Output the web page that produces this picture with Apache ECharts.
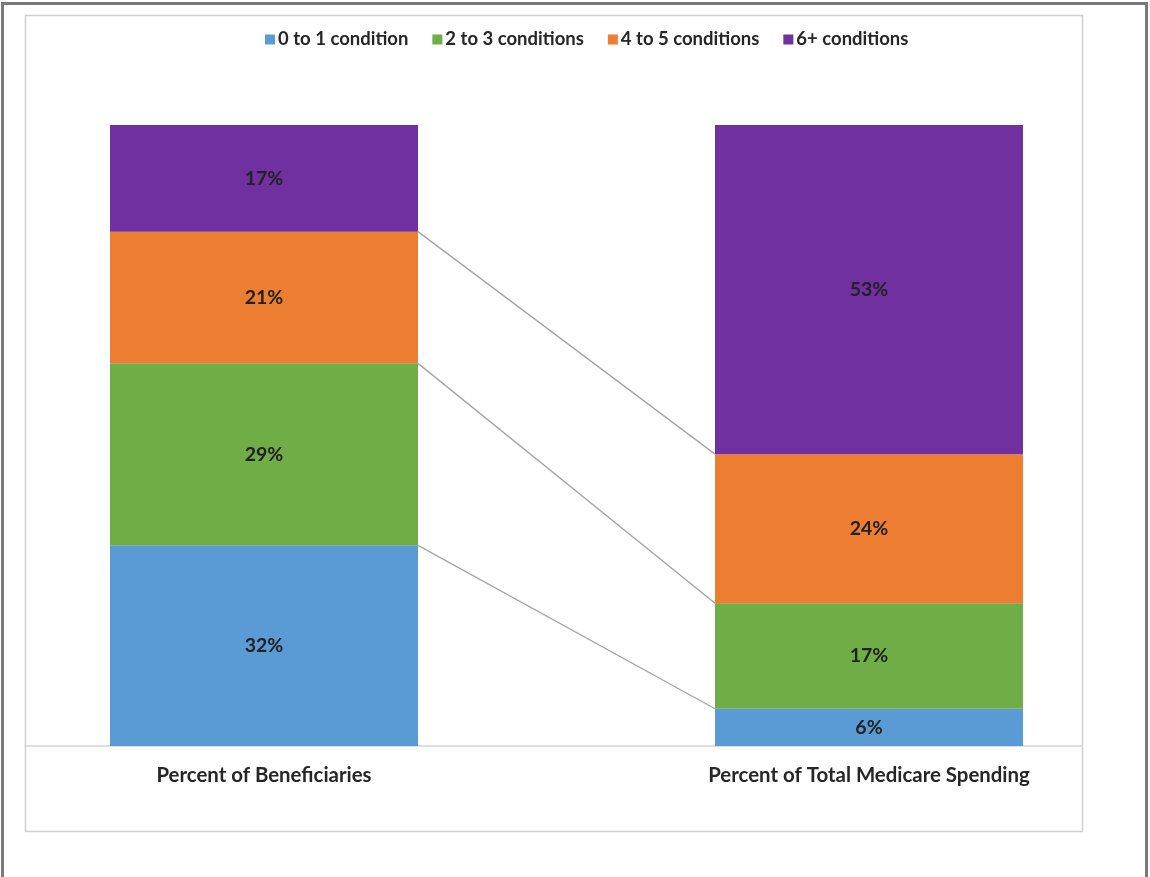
<!DOCTYPE html>
<html>
<head>
<meta charset="utf-8">
<title>Medicare beneficiaries and spending by number of chronic conditions</title>
<script src="https://cdn.jsdelivr.net/npm/echarts@6/dist/echarts.min.js"></script>
<style>
  html, body { margin: 0; padding: 0; background: #ffffff; }
  #chart { width: 1150px; height: 877px; }
</style>
</head>
<body>
<div id="chart"></div>
<script>
// Categories along the x axis
const categories = ['Percent of Beneficiaries', 'Percent of Total Medicare Spending'];

// Groups by number of chronic conditions
const groupNames = ['0 to 1 condition', '2 to 3 conditions', '4 to 5 conditions', '6+ conditions'];

// Shares (%) per category, one array per group
const zeroToOne   = [32, 6];
const twoToThree  = [29, 17];
const fourToFive  = [21, 24];
const sixPlus     = [17, 53];

const groupColors = ['#5B9BD5', '#70AD47', '#ED7D31', '#7030A0'];

const raw = [zeroToOne, twoToThree, fourToFive, sixPlus];

// 100% stacked: each column is scaled by its own total
const colTotals = categories.map((_, c) => raw.reduce((s, arr) => s + arr[c], 0));
const normalized = raw.map(arr => arr.map((v, c) => v / colTotals[c] * 100));

// Series lines join the boundaries between segments of the two columns
const seriesLines = [];
for (let g = 0; g < raw.length - 1; g++) {
  let left = 0, right = 0;
  for (let k = 0; k <= g; k++) { left += normalized[k][0]; right += normalized[k][1]; }
  seriesLines.push([0, left, 1, right]);
}

const BAR_RATIO = 308 / 605;
const FONT = 'Lato, "Open Sans", sans-serif';

const chart = echarts.init(document.getElementById('chart'), null, { renderer: 'canvas' });

const barSeries = groupNames.map((name, g) => ({
  name: name,
  type: 'bar',
  stack: 'share',
  xAxisIndex: 0,
  yAxisIndex: 0,
  barWidth: (BAR_RATIO * 100).toFixed(2) + '%',
  clip: false,
  itemStyle: { color: groupColors[g] },
  label: {
    show: true,
    position: 'inside',
    color: '#222222',
    fontFamily: FONT,
    fontWeight: 'bold',
    fontSize: 19.5,
    formatter: p => raw[g][p.dataIndex] + '%'
  },
  emphasis: { disabled: true },
  data: normalized[g]
}));

const option = {
  animation: false,
  backgroundColor: '#ffffff',
  legend: {
    top: 25,
    left: 260,
    itemWidth: 10,
    itemHeight: 10,
    itemGap: 24,
    icon: 'rect',
    textStyle: { fontFamily: FONT, fontWeight: 'bold', fontSize: 18.5, color: '#262626', padding: [0, 0, 0, -2] },
    data: groupNames
  },
  grid: [
    { left: -38.5, right: -21.5, top: 125, bottom: 131, outerBoundsMode: 'none', containLabel: false },
    { left: 25, right: 68, top: 125, bottom: 131, outerBoundsMode: 'none', containLabel: false }
  ],
  xAxis: [
    {
      type: 'category',
      gridIndex: 0,
      data: categories,
      axisLine: { show: false },
      axisTick: { show: false },
      axisLabel: {
        margin: 19,
        color: '#262626',
        fontFamily: FONT,
        fontWeight: 'bold',
        fontSize: 20.4
      }
    },
    {
      type: 'category',
      gridIndex: 1,
      data: [''],
      axisLine: { show: true, lineStyle: { color: '#d4d4d4', width: 1.5 } },
      axisTick: { show: false },
      axisLabel: { show: false }
    }
  ],
  yAxis: [
    { type: 'value', gridIndex: 0, min: 0, max: 100, show: false },
    { type: 'value', gridIndex: 1, min: 0, max: 100, show: false }
  ],
  series: barSeries.concat([
    {
      name: 'series lines',
      type: 'custom',
      xAxisIndex: 0,
      yAxisIndex: 0,
      encode: { x: [0, 2], y: [1, 3] },
      clip: false,
      silent: true,
      z: 1,
      renderItem: (params, api) => {
        const p0 = api.coord([api.value(0), api.value(1)]);
        const p1 = api.coord([api.value(2), api.value(3)]);
        const half = api.size([1, 0])[0] * BAR_RATIO / 2;
        return {
          type: 'line',
          shape: { x1: p0[0] + half, y1: p0[1], x2: p1[0] - half, y2: p1[1] },
          style: { stroke: '#a6a6a6', lineWidth: 1.4 }
        };
      },
      data: seriesLines
    }
  ]),
  graphic: [
    {
      type: 'rect',
      silent: true,
      shape: { x: 2.5, y: 3.5, width: 1144, height: 900 },
      style: { fill: null, stroke: '#7a7a7a', lineWidth: 3 }
    },
    {
      type: 'rect',
      silent: true,
      shape: { x: 25.5, y: 15.5, width: 1057, height: 816 },
      style: { fill: null, stroke: '#cfcfcf', lineWidth: 1.5 }
    }
  ]
};

chart.setOption(option);
</script>
</body>
</html>
